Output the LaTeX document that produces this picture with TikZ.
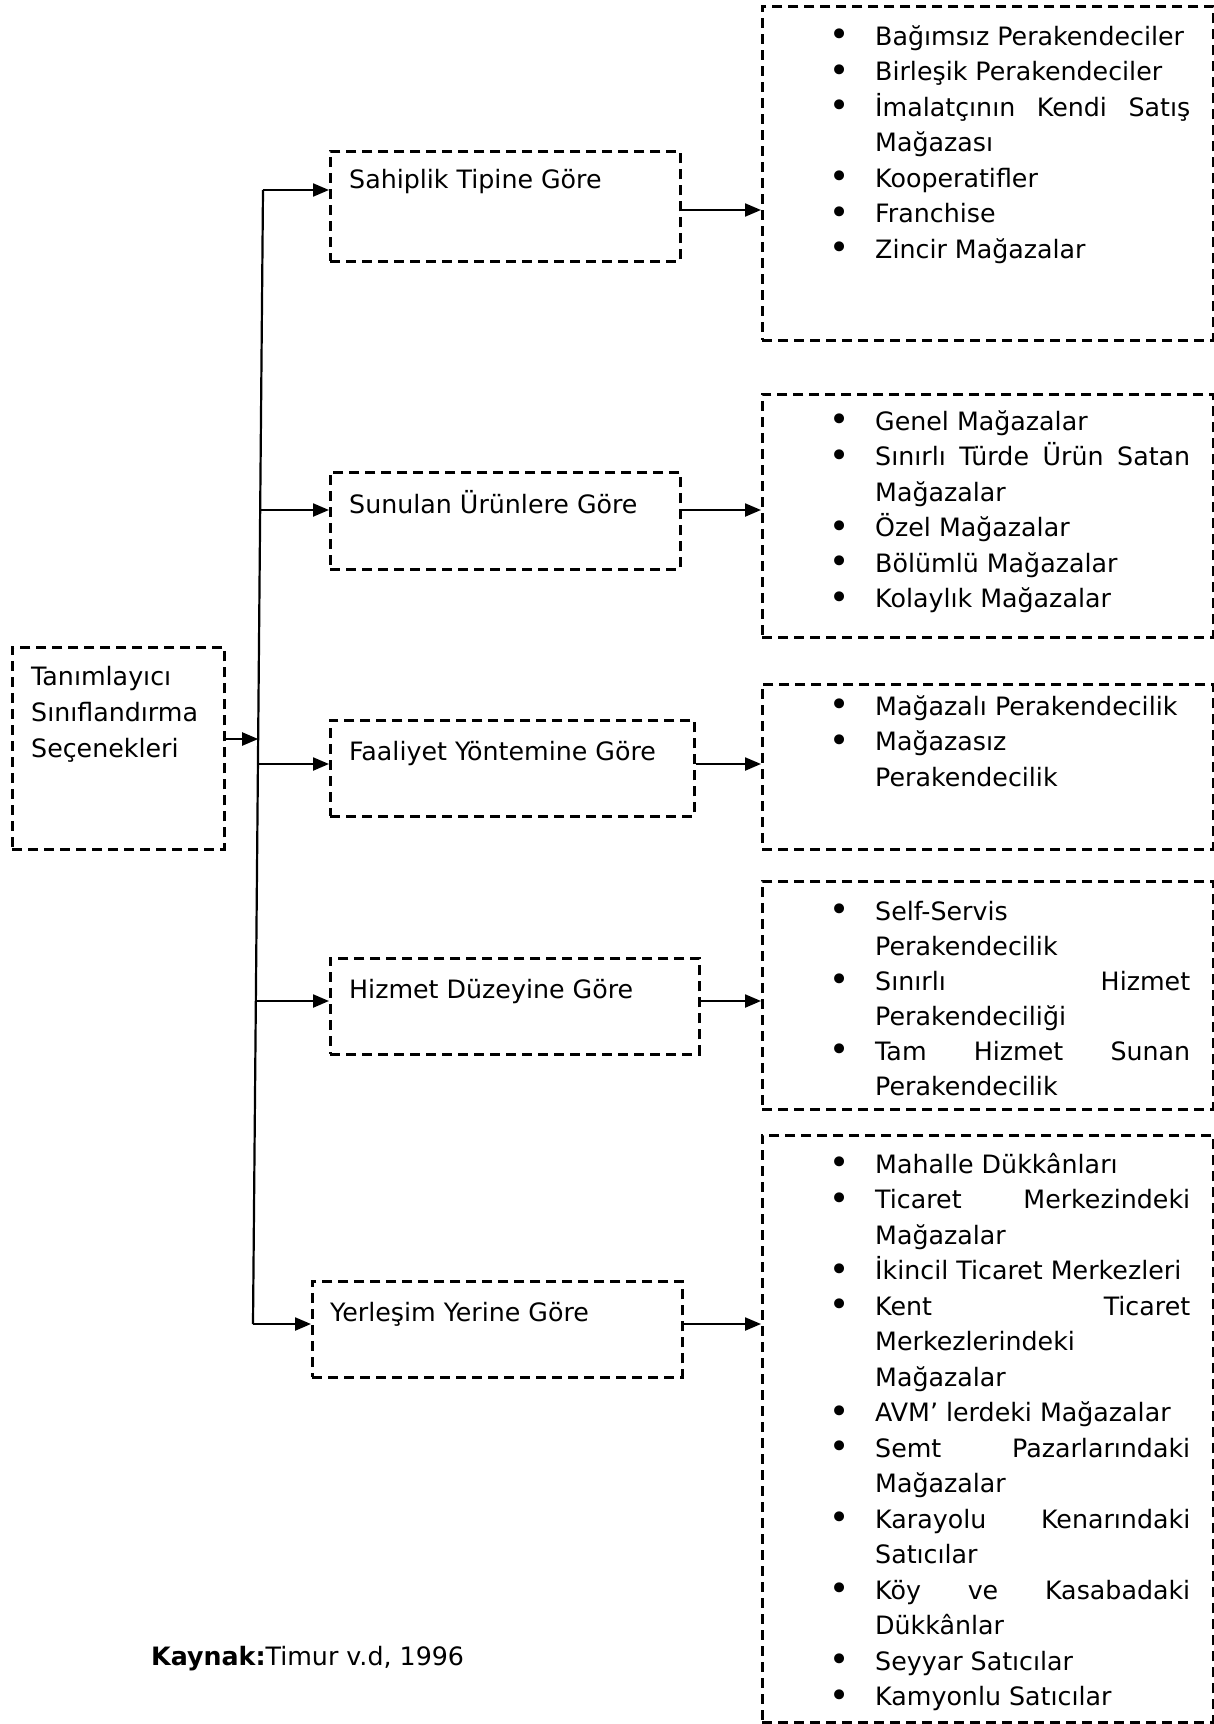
\documentclass[tikz,border=0pt]{standalone}
\usepackage{fontspec}
\setmainfont{DejaVu Sans}
\usetikzlibrary{arrows.meta}
\newcommand\bl{\makebox[44pt][l]{\hspace*{-2pt}\raisebox{-1.5pt}{\scalebox{1.35}{•}}}}
\newcommand\cl{\hspace*{44pt}}
\newcommand\jl[1]{\makebox[315pt][l]{#1}}
\tikzset{
  dbox/.style={draw, dash pattern=on 10pt off 6pt, line width=2.6pt, inner sep=0pt, anchor=north west},
  arr/.style={-{Triangle[length=16pt,width=13pt]}, line width=2.2pt},
  trunk/.style={line width=2.2pt},
  txt/.style={anchor=base west, inner sep=0pt, font=\fontsize{25.3pt}{35pt}\selectfont},
}
\begin{document}
\begin{tikzpicture}[x=1pt,y=-1pt]
\useasboundingbox (0,0) rectangle (1213,1724);
% boxes
\node[dbox, minimum width=212pt, minimum height=202pt] (lbox) at (11,646) {};
\node[dbox, minimum width=350pt, minimum height=110pt] (m1) at (329,150) {};
\node[dbox, minimum width=350pt, minimum height=97pt] (m2) at (329,471) {};
\node[dbox, minimum width=364pt, minimum height=96pt] (m3) at (329,719) {};
\node[dbox, minimum width=369pt, minimum height=96pt] (m4) at (329,957) {};
\node[dbox, minimum width=370pt, minimum height=96pt] (m5) at (311,1280) {};
\node[dbox, minimum width=451pt, minimum height=334pt] (r1) at (761,5) {};
\node[dbox, minimum width=451pt, minimum height=243pt] (r2) at (761,393) {};
\node[dbox, minimum width=451pt, minimum height=165pt] (r3) at (761,683) {};
\node[dbox, minimum width=451pt, minimum height=228pt] (r4) at (761,880) {};
\node[dbox, minimum width=451pt, minimum height=587pt] (r5) at (761,1134) {};
% texts
\node[txt] (lt1) at (31,685) {Tanımlayıcı};
\node[txt] (lt2) at (31,721) {Sınıflandırma};
\node[txt] (lt3) at (31,757) {Seçenekleri};
\node[txt] (mt1) at (349,188) {Sahiplik Tipine Göre};
\node[txt] (mt2) at (349,513) {Sunulan Ürünlere Göre};
\node[txt] (mt3) at (349,760) {Faaliyet Yöntemine Göre};
\node[txt] (mt4) at (349,998) {Hizmet Düzeyine Göre};
\node[txt] (mt5) at (330,1321) {Yerleşim Yerine Göre};
\node[txt] (kaynak) at (151,1665) {\textbf{Kaynak:}Timur v.d, 1996};
% lists
\foreach \t [count=\i] in {
  \bl Bağımsız Perakendeciler,
  \bl Birleşik Perakendeciler,
  \bl\jl{İmalatçının\hfill Kendi\hfill Satış},
  \cl Mağazası,
  \bl Kooperatifler,
  \bl Franchise,
  \bl Zincir Mağazalar}
  \node[txt] (ra\i) at (831,{45+35.5*(\i-1)}) {\t};
\foreach \t [count=\i] in {
  \bl Genel Mağazalar,
  \bl\jl{Sınırlı\hfill Türde\hfill Ürün\hfill Satan},
  \cl Mağazalar,
  \bl Özel Mağazalar,
  \bl Bölümlü Mağazalar,
  \bl Kolaylık Mağazalar}
  \node[txt] (rb\i) at (831,{430+35.5*(\i-1)}) {\t};
\foreach \t [count=\i] in {
  \bl Mağazalı Perakendecilik,
  \bl Mağazasız,
  \cl Perakendecilik}
  \node[txt] (rc\i) at (831,{715+35.5*(\i-1)}) {\t};
\foreach \t [count=\i] in {
  \bl Self-Servis,
  \cl Perakendecilik,
  \bl\jl{Sınırlı\hfill Hizmet},
  \cl Perakendeciliği,
  \bl\jl{Tam\hfill Hizmet\hfill Sunan},
  \cl Perakendecilik}
  \node[txt] (rd\i) at (831,{920+35.1*(\i-1)}) {\t};
\foreach \t [count=\i] in {
  \bl Mahalle Dükkânları,
  \bl\jl{Ticaret\hfill Merkezindeki},
  \cl Mağazalar,
  \bl İkincil Ticaret Merkezleri,
  \bl\jl{Kent\hfill Ticaret},
  \cl Merkezlerindeki,
  \cl Mağazalar,
  \bl AVM’ lerdeki Mağazalar,
  \bl\jl{Semt\hfill Pazarlarındaki},
  \cl Mağazalar,
  \bl\jl{Karayolu\hfill Kenarındaki},
  \cl Satıcılar,
  \bl\jl{Köy\hfill ve\hfill Kasabadaki},
  \cl Dükkânlar,
  \bl Seyyar Satıcılar,
  \bl Kamyonlu Satıcılar}
  \node[txt] (re\i) at (831,{1173+35.5*(\i-1)}) {\t};
% trunk
\coordinate (vt) at (263,190);
\coordinate (vb) at (253,1324);
\coordinate (v0) at (258.2,739);
\coordinate (v2) at (260.2,510);
\coordinate (v3) at (257.9,764);
\coordinate (v4) at (255.8,1001);
\draw[trunk] (vt) -- (vb);
\draw[arr] (lbox.east |- v0) -- (v0);
\draw[arr] (vt) -- (m1.west |- vt);
\draw[arr] (v2) -- (m2.west |- v2);
\draw[arr] (v3) -- (m3.west |- v3);
\draw[arr] (v4) -- (m4.west |- v4);
\draw[arr] (vb) -- (m5.west |- vb);
% outgoing
\draw[arr] (m1.east |- 0,210) -- (r1.west |- 0,210);
\draw[arr] (m2.east |- v2) -- (r2.west |- v2);
\draw[arr] (m3.east |- v3) -- (r3.west |- v3);
\draw[arr] (m4.east |- v4) -- (r4.west |- v4);
\draw[arr] (m5.east |- vb) -- (r5.west |- vb);
\end{tikzpicture}
\end{document}
